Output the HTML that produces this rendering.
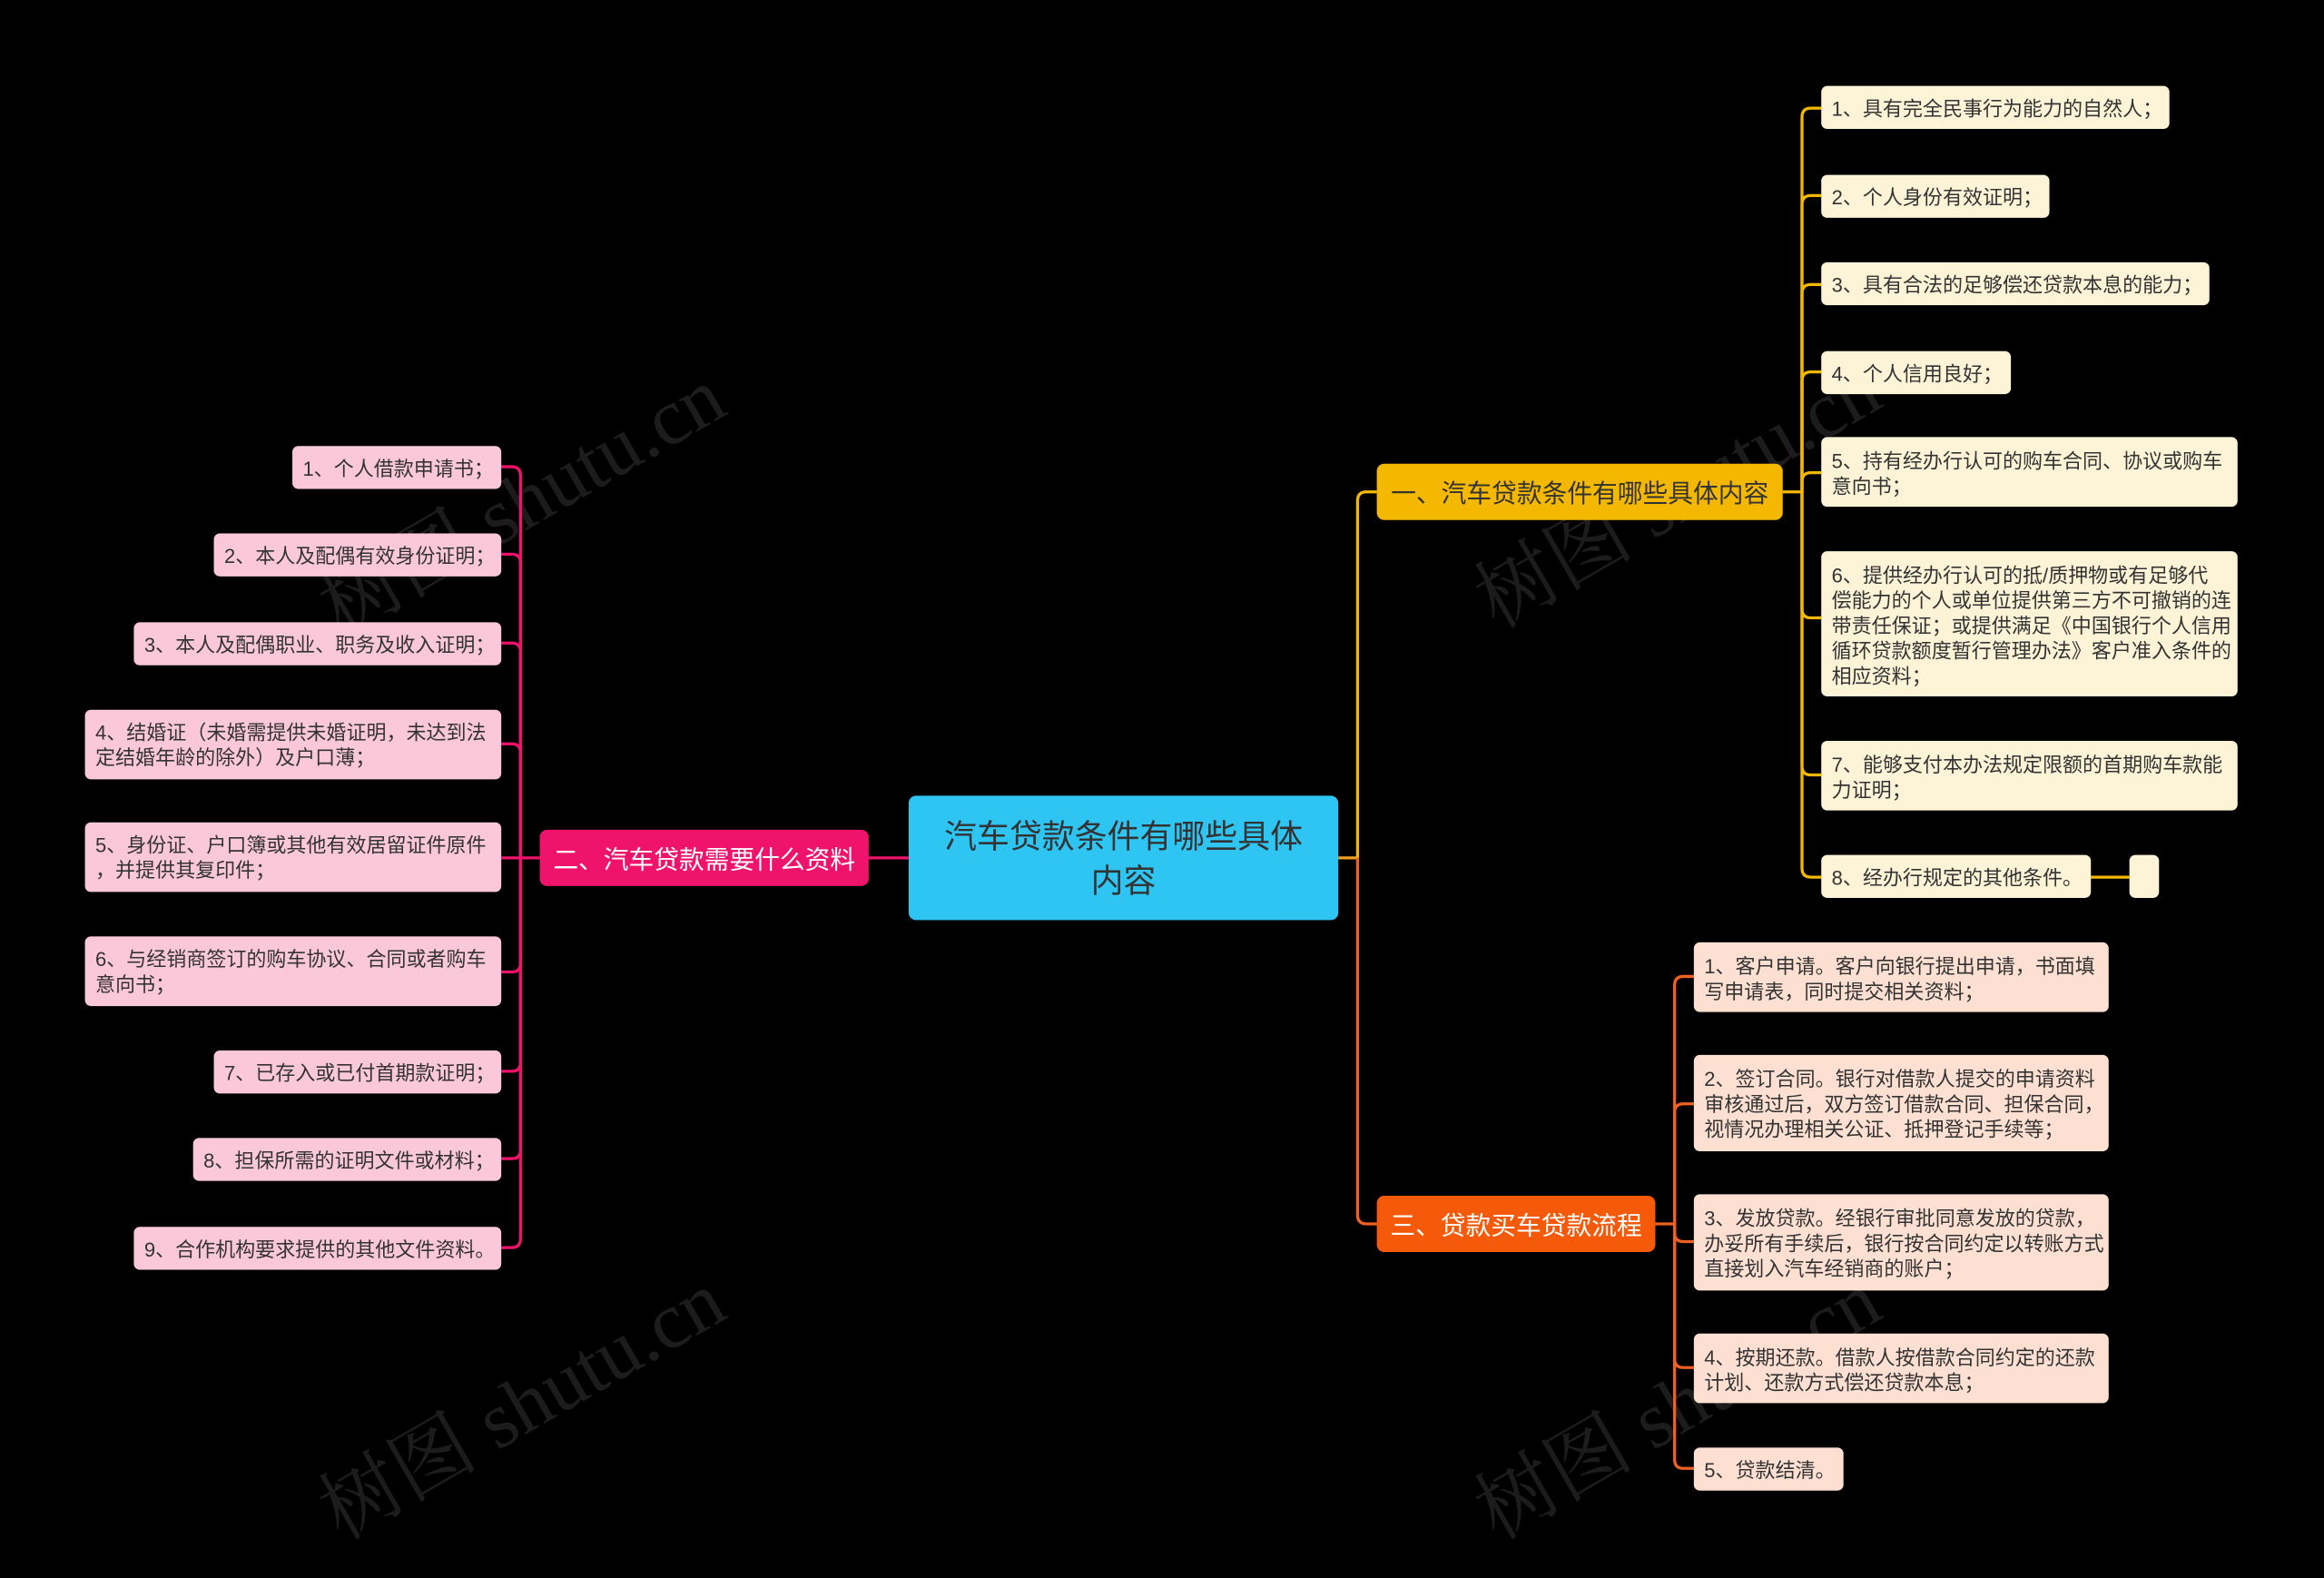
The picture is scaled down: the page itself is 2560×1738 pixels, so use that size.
<!DOCTYPE html>
<html><head><meta charset="utf-8"><style>
html,body{margin:0;padding:0;background:#000;width:2560px;height:1738px;overflow:hidden}
svg{display:block}
text{font-family:"Liberation Sans","Noto Sans CJK SC",sans-serif}
.l{font-size:13.5px;fill:#333}
.wm{font-family:"Liberation Serif","Noto Serif CJK SC",serif;font-size:54px;fill:#1c1c1c}
</style></head><body>
<svg width="2560" height="1738" viewBox="0 0 1568 1065" xmlns="http://www.w3.org/2000/svg">
<rect width="1568" height="1065" fill="#000"/>
<g>
<text class="wm" x="0" y="0" transform="translate(230 430) rotate(-30)">树图 shutu.cn</text>
<text class="wm" x="0" y="0" transform="translate(230 1040) rotate(-30)">树图 shutu.cn</text>
<text class="wm" x="0" y="0" transform="translate(1010 425) rotate(-30)">树图 shutu.cn</text>
<text class="wm" x="0" y="0" transform="translate(1010 1040) rotate(-30)">树图 shutu.cn</text>
</g>
<g fill="none" stroke-width="2">
<path d="M903 579 H916" stroke="#f0a020"/>
<path d="M916 579 V338 Q916 332 922 332 H929" stroke="#f5b800"/>
<path d="M916 579 V820 Q916 826 922 826 H929" stroke="#f06020"/>
<path d="M613 579 H586" stroke="#f0136b"/>
<g stroke="#f5b800">
<path d="M1203 332 H1216"/>
<path d="M1216 332 V79 Q1216 73 1222 73 H1229"/>
<path d="M1216 332 V138 Q1216 132 1222 132 H1229"/>
<path d="M1216 332 V198 Q1216 192 1222 192 H1229"/>
<path d="M1216 332 V257 Q1216 251 1222 251 H1229"/>
<path d="M1216 332 V325 Q1216 319 1222 319 H1229"/>
<path d="M1216 332 V411 Q1216 417 1222 417 H1229"/>
<path d="M1216 332 V517 Q1216 523 1222 523 H1229"/>
<path d="M1216 332 V586 Q1216 592 1222 592 H1229"/>
<path d="M1411 592 H1437"/>
</g>
<g stroke="#f0136b">
<path d="M364 579 H351"/>
<path d="M351 579 V321 Q351 315 345 315 H338"/>
<path d="M351 579 V380 Q351 374 345 374 H338"/>
<path d="M351 579 V440 Q351 434 345 434 H338"/>
<path d="M351 579 V508 Q351 502 345 502 H338"/>
<path d="M351 579 H338"/>
<path d="M351 579 V650 Q351 656 345 656 H338"/>
<path d="M351 579 V717 Q351 723 345 723 H338"/>
<path d="M351 579 V776 Q351 782 345 782 H338"/>
<path d="M351 579 V836 Q351 842 345 842 H338"/>
</g>
<g stroke="#f06020">
<path d="M1117 826 H1130"/>
<path d="M1130 826 V665 Q1130 659 1136 659 H1143"/>
<path d="M1130 826 V751 Q1130 745 1136 745 H1143"/>
<path d="M1130 826 V832 Q1130 838 1136 838 H1143"/>
<path d="M1130 826 V917 Q1130 923 1136 923 H1143"/>
<path d="M1130 826 V985 Q1130 991 1136 991 H1143"/>
</g>
</g>
<rect x="613" y="537" width="290" height="84" rx="5" fill="#2ec5f3"/>
<text x="758" y="572" font-size="22" fill="#333" text-anchor="middle">汽车贷款条件有哪些具体</text>
<text x="758" y="602" font-size="22" fill="#333" text-anchor="middle">内容</text>
<rect x="929" y="313" width="274" height="38" rx="5" fill="#f5b800"/>
<text x="1066" y="339" font-size="17" fill="#333" text-anchor="middle">一、汽车贷款条件有哪些具体内容</text>
<rect x="364" y="560" width="222" height="38" rx="5" fill="#f0136b"/>
<text x="475" y="586" font-size="17" fill="#fff" text-anchor="middle">二、汽车贷款需要什么资料</text>
<rect x="929" y="807" width="188" height="38" rx="5" fill="#f55a0a"/>
<text x="1023" y="833" font-size="17" fill="#fff" text-anchor="middle">三、贷款买车贷款流程</text>
<g>
<rect x="1229" y="58" width="235" height="29" rx="4" fill="#fdf3d6"/><text class="l" x="1236" y="78">1、具有完全民事行为能力的自然人；</text>
<rect x="1229" y="118" width="154" height="29" rx="4" fill="#fdf3d6"/><text class="l" x="1236" y="138">2、个人身份有效证明；</text>
<rect x="1229" y="177" width="262" height="29" rx="4" fill="#fdf3d6"/><text class="l" x="1236" y="197">3、具有合法的足够偿还贷款本息的能力；</text>
<rect x="1229" y="237" width="128" height="29" rx="4" fill="#fdf3d6"/><text class="l" x="1236" y="257">4、个人信用良好；</text>
<rect x="1229" y="295" width="281" height="47" rx="4" fill="#fdf3d6"/><text class="l" x="1236" y="316">5、持有经办行认可的购车合同、协议或购车</text><text class="l" x="1236" y="333">意向书；</text>
<rect x="1229" y="372" width="281" height="98" rx="4" fill="#fdf3d6"/>
<text class="l" x="1236" y="393">6、提供经办行认可的抵/质押物或有足够代</text>
<text class="l" x="1236" y="410">偿能力的个人或单位提供第三方不可撤销的连</text>
<text class="l" x="1236" y="427">带责任保证；或提供满足《中国银行个人信用</text>
<text class="l" x="1236" y="444">循环贷款额度暂行管理办法》客户准入条件的</text>
<text class="l" x="1236" y="461">相应资料；</text>
<rect x="1229" y="500" width="281" height="47" rx="4" fill="#fdf3d6"/><text class="l" x="1236" y="521">7、能够支付本办法规定限额的首期购车款能</text><text class="l" x="1236" y="538">力证明；</text>
<rect x="1229" y="577" width="182" height="29" rx="4" fill="#fdf3d6"/><text class="l" x="1236" y="597">8、经办行规定的其他条件。</text>
<rect x="1437" y="577" width="20" height="29" rx="4" fill="#fdf3d6"/>
</g>
<g>
<rect x="197" y="301" width="141" height="29" rx="4" fill="#fbc8da"/><text class="l" x="204" y="321">1、个人借款申请书；</text>
<rect x="144" y="360" width="194" height="29" rx="4" fill="#fbc8da"/><text class="l" x="151" y="380">2、本人及配偶有效身份证明；</text>
<rect x="90" y="420" width="248" height="29" rx="4" fill="#fbc8da"/><text class="l" x="97" y="440">3、本人及配偶职业、职务及收入证明；</text>
<rect x="57" y="479" width="281" height="47" rx="4" fill="#fbc8da"/><text class="l" x="64" y="499">4、结婚证（未婚需提供未婚证明，未达到法</text><text class="l" x="64" y="516">定结婚年龄的除外）及户口薄；</text>
<rect x="57" y="555" width="281" height="47" rx="4" fill="#fbc8da"/><text class="l" x="64" y="575">5、身份证、户口簿或其他有效居留证件原件</text><text class="l" x="64" y="592">，并提供其复印件；</text>
<rect x="57" y="632" width="281" height="47" rx="4" fill="#fbc8da"/><text class="l" x="64" y="652">6、与经销商签订的购车协议、合同或者购车</text><text class="l" x="64" y="669">意向书；</text>
<rect x="144" y="709" width="194" height="29" rx="4" fill="#fbc8da"/><text class="l" x="151" y="729">7、已存入或已付首期款证明；</text>
<rect x="130" y="768" width="208" height="29" rx="4" fill="#fbc8da"/><text class="l" x="137" y="788">8、担保所需的证明文件或材料；</text>
<rect x="90" y="828" width="248" height="29" rx="4" fill="#fbc8da"/><text class="l" x="97" y="848">9、合作机构要求提供的其他文件资料。</text>
</g>
<g>
<rect x="1143" y="636" width="280" height="47" rx="4" fill="#fde0d2"/><text class="l" x="1150" y="657">1、客户申请。客户向银行提出申请，书面填</text><text class="l" x="1150" y="674">写申请表，同时提交相关资料；</text>
<rect x="1143" y="712" width="280" height="65" rx="4" fill="#fde0d2"/><text class="l" x="1150" y="733">2、签订合同。银行对借款人提交的申请资料</text><text class="l" x="1150" y="750">审核通过后，双方签订借款合同、担保合同，</text><text class="l" x="1150" y="767">视情况办理相关公证、抵押登记手续等；</text>
<rect x="1143" y="806" width="280" height="65" rx="4" fill="#fde0d2"/><text class="l" x="1150" y="827">3、发放贷款。经银行审批同意发放的贷款，</text><text class="l" x="1150" y="844">办妥所有手续后，银行按合同约定以转账方式</text><text class="l" x="1150" y="861">直接划入汽车经销商的账户；</text>
<rect x="1143" y="900" width="280" height="47" rx="4" fill="#fde0d2"/><text class="l" x="1150" y="921">4、按期还款。借款人按借款合同约定的还款</text><text class="l" x="1150" y="938">计划、还款方式偿还贷款本息；</text>
<rect x="1143" y="977" width="101" height="29" rx="4" fill="#fde0d2"/><text class="l" x="1150" y="997">5、贷款结清。</text>
</g>
</svg>
</body></html>
